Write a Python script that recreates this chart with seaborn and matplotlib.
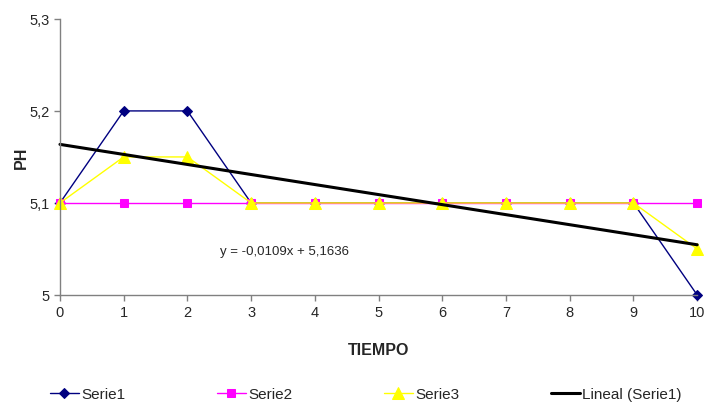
import numpy as np
import pandas as pd
import matplotlib.pyplot as plt
import seaborn as sns
from matplotlib.ticker import FuncFormatter

tiempo = [0, 1, 2, 3, 4, 5, 6, 7, 8, 9, 10]
serie1 = [5.1, 5.2, 5.2, 5.1, 5.1, 5.1, 5.1, 5.1, 5.1, 5.1, 5.0]
serie2 = [5.1, 5.1, 5.1, 5.1, 5.1, 5.1, 5.1, 5.1, 5.1, 5.1, 5.1]
serie3 = [5.1, 5.15, 5.15, 5.1, 5.1, 5.1, 5.1, 5.1, 5.1, 5.1, 5.05]

sns.set_style('white')
plt.rcParams['font.family'] = ['Liberation Sans', 'DejaVu Sans']

df = pd.DataFrame({'tiempo': tiempo, 'Serie1': serie1, 'Serie2': serie2, 'Serie3': serie3})

# linear trend on Serie1
slope, intercept = np.polyfit(df['tiempo'], df['Serie1'], 1)
df['trend'] = slope * df['tiempo'] + intercept

fig = plt.figure(figsize=(7.08, 4.06), dpi=100)
ax = fig.add_axes([0.0847, 0.271, 0.90, 0.68])

sns.lineplot(data=df, x='tiempo', y='Serie1', ax=ax, color='#000080', marker='D',
             markersize=5.5, markeredgecolor='#000080', linewidth=1, label='Serie1')
sns.lineplot(data=df, x='tiempo', y='Serie2', ax=ax, color='#FF00FF', marker='s',
             markersize=6, markeredgecolor='#FF00FF', linewidth=1, label='Serie2')
sns.lineplot(data=df, x='tiempo', y='Serie3', ax=ax, color='#FFFF00', marker='^',
             markersize=8, markeredgecolor='#FFFF00', linewidth=1, label='Serie3')
sns.lineplot(data=df, x='tiempo', y='trend', ax=ax, color='black', linewidth=2.2,
             label='Lineal (Serie1)')

ax.text(2.51, 5.048, 'y = -0,0109x + 5,1636', fontsize=9.5, va='center', ha='left')

ax.set_xlim(0, 10)
ax.set_ylim(5.0, 5.3)
ax.set_xticks(tiempo)
ax.set_yticks([5.0, 5.1, 5.2, 5.3])
ax.yaxis.set_major_formatter(FuncFormatter(lambda v, p: ('%g' % round(v, 1)).replace('.', ',')))
ax.tick_params(axis='both', direction='out', length=4, width=1, color='#808080',
               labelsize=10.5, bottom=True, left=True)
for s in ['top', 'right']:
    ax.spines[s].set_visible(False)
for s in ['left', 'bottom']:
    ax.spines[s].set_color('#808080')
    ax.spines[s].set_linewidth(1)
ax.margins(x=0)
for line in ax.lines:
    line.set_clip_on(False)

ax.set_xlabel('TIEMPO', fontsize=11.5, fontweight='bold', labelpad=16)
ax.set_ylabel('PH', fontsize=11.5, fontweight='bold', labelpad=0)

ax.legend(loc='center', bbox_to_anchor=(0.48, -0.36), ncol=4, frameon=False,
          fontsize=11, handlelength=1.9, columnspacing=6.0, handletextpad=0.15)

fig.savefig('out.png', dpi=100, facecolor='white')
